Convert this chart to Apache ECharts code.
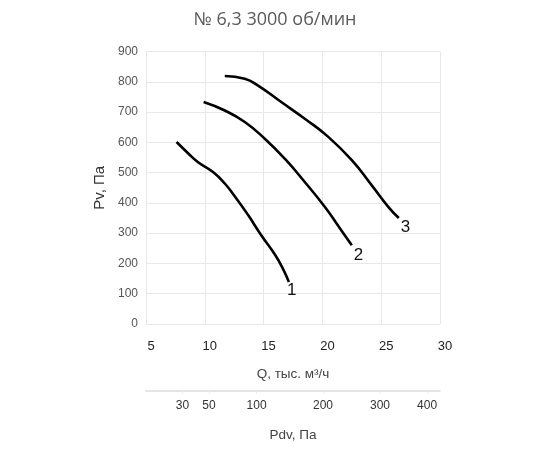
<!DOCTYPE html>
<html>
<head>
<meta charset="utf-8">
<script src="https://cdn.jsdelivr.net/npm/echarts@6/dist/echarts.min.js"></script>
<style>html,body{margin:0;padding:0;background:#fff}#c{width:550px;height:450px}</style>
</head>
<body>
<div id="c"></div>
<script>
// Data
const titleText = '№ 6,3 3000 об/мин';
const xName = 'Q, тыс. м³/ч';
const yName = 'Рv, Па';
const x2Name = 'Рdv, Па';

const q1 = [7.6, 8.6, 9.4, 10.7, 11.7, 12.7, 13.7, 14.8, 16.0, 16.7, 17.15];
const p1 = [601, 563, 535, 502, 464, 414, 359, 293, 227, 178, 139];

const q2 = [9.9, 11.7, 13.4, 15.1, 16.8, 18.5, 20.2, 21.6, 22.5];
const p2 = [733, 705, 667, 612, 546, 469, 387, 310, 260];

const q3 = [11.7, 13.4, 14.5, 16.5, 18.5, 20.5, 22.5, 24.2, 25.6, 26.5];
const p3 = [819, 810, 788, 733, 678, 618, 541, 458, 387, 350];

const seriesNames = ['1', '2', '3'];

// secondary axis: dynamic pressure ticks and their positions on the Q scale
const pdvTicks = [30, 50, 100, 200, 300, 400];
const pdvQ = [8.1, 10.35, 14.4, 20.05, 24.9, 28.9];

const pairs = (q, p) => q.map((v, i) => [v, p[i]]);

const chart = echarts.init(document.getElementById('c'));
const font = 'Liberation Sans, Arial, sans-serif';
const mkSeries = (name, q, p, off) => ({
  name: name, type: 'line', smooth: 0.5, symbol: 'none',
  data: pairs(q, p),
  lineStyle: {color: '#000', width: 2.6},
  endLabel: {show: true, formatter: '{a}', color: '#111', fontSize: 17, fontFamily: font, offset: off},
  xAxisIndex: 0, yAxisIndex: 0
});

chart.setOption({
  animation: false,
  backgroundColor: '#fff',
  title: {
    text: titleText, left: 'center', top: 6,
    textStyle: {fontSize: 18, fontWeight: 'normal', color: '#5a5a5a', fontFamily: 'Open Sans, sans-serif'}
  },
  grid: [
    {left: 146, right: 110, top: 51.5, bottom: 126},
    {left: 146, right: 110, top: 390, height: 1}
  ],
  xAxis: [
    {
      gridIndex: 0, type: 'value', min: 5, max: 30, interval: 5,
      name: xName, nameLocation: 'middle', nameGap: 43,
      nameTextStyle: {fontSize: 13.5, color: '#444', fontFamily: font},
      axisLine: {show: false}, axisTick: {show: false},
      axisLabel: {fontSize: 13, color: '#222', fontFamily: font, margin: 16, padding: [0, 0, 0, 10]},
      splitLine: {show: true, lineStyle: {color: '#e8e8e8', width: 1}}
    },
    {
      gridIndex: 1, type: 'value', min: 5, max: 30,
      name: x2Name, nameLocation: 'middle', nameGap: 37,
      nameTextStyle: {fontSize: 13.5, color: '#444', fontFamily: font},
      axisLine: {show: true, lineStyle: {color: '#dcdcdc', width: 1.5}},
      axisTick: {show: true, customValues: pdvQ, length: 3, inside: false, lineStyle: {color: '#eee'}},
      axisLabel: {
        customValues: pdvQ, fontSize: 12, color: '#333', fontFamily: font, margin: 9,
        formatter: function (v) {
          let best = -1, d = 1e9;
          pdvQ.forEach((q, i) => { const dd = Math.abs(q - v); if (dd < d) { d = dd; best = i; } });
          return d < 0.01 ? String(pdvTicks[best]) : '';
        }
      },
      splitLine: {show: false}
    }
  ],
  yAxis: [
    {
      gridIndex: 0, type: 'value', min: 0, max: 900, interval: 100,
      name: yName, nameLocation: 'middle', nameGap: 31, nameRotate: 90,
      nameTextStyle: {fontSize: 15, color: '#333', fontFamily: font},
      axisLine: {show: false}, axisTick: {show: false},
      axisLabel: {fontSize: 12, color: '#555', fontFamily: font, margin: 8},
      splitLine: {show: true, lineStyle: {color: '#e8e8e8', width: 1}}
    },
    {
      gridIndex: 1, type: 'value', show: false
    }
  ],
  series: [
    mkSeries(seriesNames[0], q1, p1, [-10, 8]),
    mkSeries(seriesNames[1], q2, p2, [-6, 10]),
    mkSeries(seriesNames[2], q3, p3, [-6, 9])
  ]
});
</script>
</body>
</html>
